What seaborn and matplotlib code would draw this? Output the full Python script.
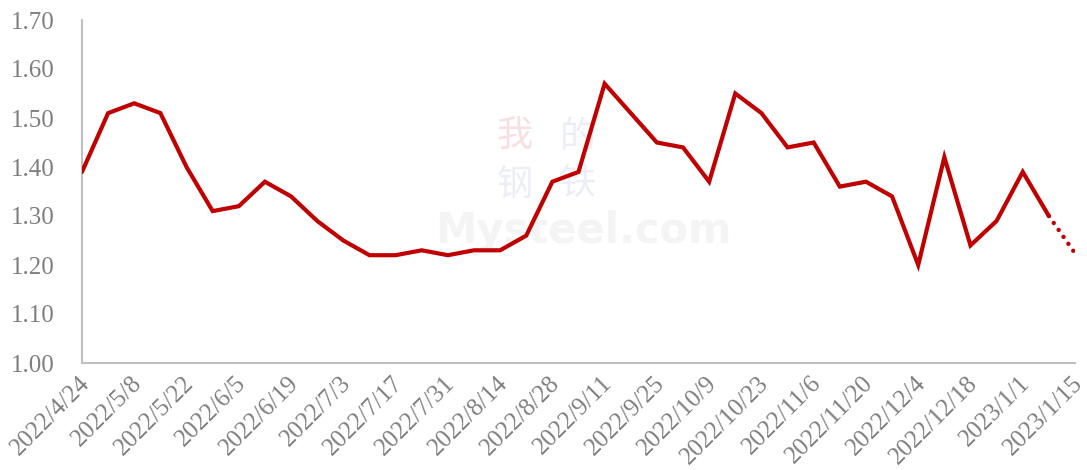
import numpy as np
import pandas as pd
import matplotlib
matplotlib.use('Agg')
import matplotlib.pyplot as plt
import matplotlib.transforms as mtransforms
import seaborn as sns

dates = ['2022/4/24', '2022/5/1', '2022/5/8', '2022/5/15', '2022/5/22', '2022/5/29',
         '2022/6/5', '2022/6/12', '2022/6/19', '2022/6/26', '2022/7/3', '2022/7/10',
         '2022/7/17', '2022/7/24', '2022/7/31', '2022/8/7', '2022/8/14', '2022/8/21',
         '2022/8/28', '2022/9/4', '2022/9/11', '2022/9/18', '2022/9/25', '2022/10/2',
         '2022/10/9', '2022/10/16', '2022/10/23', '2022/10/30', '2022/11/6', '2022/11/13',
         '2022/11/20', '2022/11/27', '2022/12/4', '2022/12/11', '2022/12/18', '2022/12/25',
         '2023/1/1', '2023/1/8', '2023/1/15']
values = [1.39, 1.51, 1.53, 1.51, 1.40, 1.31,
          1.32, 1.37, 1.34, 1.29, 1.25, 1.22,
          1.22, 1.23, 1.22, 1.23, 1.23, 1.26,
          1.37, 1.39, 1.57, 1.51, 1.45, 1.44,
          1.37, 1.55, 1.51, 1.44, 1.45, 1.36,
          1.37, 1.34, 1.20, 1.42, 1.24, 1.29,
          1.39, 1.30, 1.224]
n_forecast = 1  # last point is a projection (dotted)

y_ticks = [1.00, 1.10, 1.20, 1.30, 1.40, 1.50, 1.60, 1.70]

df = pd.DataFrame({'x': np.arange(len(dates)), 'v': values})
solid = df.iloc[:len(df) - n_forecast]
dotted = df.iloc[len(df) - n_forecast - 1:]

sns.set_style('white')
plt.rcParams['font.family'] = ['Liberation Serif', 'Noto Sans CJK SC', 'DejaVu Sans']

fig = plt.figure(figsize=(10.87, 4.70), dpi=100)
ax = fig.add_axes([82 / 1087, 107 / 470, 993 / 1087, 343 / 470])

red = '#C00000'
grey_txt = '#7F7F7F'
grey_ax = '#BFBFBF'

# faint watermark
for (cx, cy, ch, col) in [(0.436, 0.66, '我', '#F8E0E0'), (0.499, 0.66, '的', '#ECEEF5'),
                          (0.436, 0.52, '钢', '#ECEEF5'), (0.499, 0.52, '铁', '#ECEEF5')]:
    ax.text(cx, cy, ch, transform=ax.transAxes, fontsize=26, color=col,
            ha='center', va='center', family=['Noto Sans CJK SC'], zorder=0)
ax.text(0.505, 0.385, 'Mysteel.com', transform=ax.transAxes, fontsize=30,
        color='#F4F4F4', ha='center', va='center', family=['DejaVu Sans'],
        fontweight='bold', zorder=0)

sns.lineplot(data=solid, x='x', y='v', ax=ax, color=red, linewidth=3,
             solid_joinstyle='miter', zorder=3)
sns.lineplot(data=dotted, x='x', y='v', ax=ax, color=red, linewidth=3.2,
             linestyle=(0, (0.01, 1.9)), dash_capstyle='round', zorder=3)

ax.set_xlim(0, len(dates) - 1)
ax.set_ylim(1.0, 1.7)
ax.set_yticks(y_ticks)
ax.set_yticklabels([f'{t:.2f}' for t in y_ticks])
ax.set_xticks(np.arange(0, len(dates), 2))
ax.set_xticklabels(dates[::2], rotation=45, ha='right', va='center',
                   rotation_mode='anchor')
ax.set_xlabel('')
ax.set_ylabel('')

for s in ['top', 'right']:
    ax.spines[s].set_visible(False)
for s in ['left', 'bottom']:
    ax.spines[s].set_color(grey_ax)
    ax.spines[s].set_linewidth(1.5)
ax.tick_params(axis='both', colors=grey_ax, length=6, width=1.5, direction='out',
               labelcolor=grey_txt, labelsize=18)
ax.tick_params(axis='x', pad=6)
ax.tick_params(axis='y', pad=14)

# nudge date labels slightly right, like the original
shift = mtransforms.ScaledTranslation(4 / 100, 0, fig.dpi_scale_trans)
for lab in ax.get_xticklabels():
    lab.set_transform(lab.get_transform() + shift)

fig.savefig('out.png', dpi=100, facecolor='white')
